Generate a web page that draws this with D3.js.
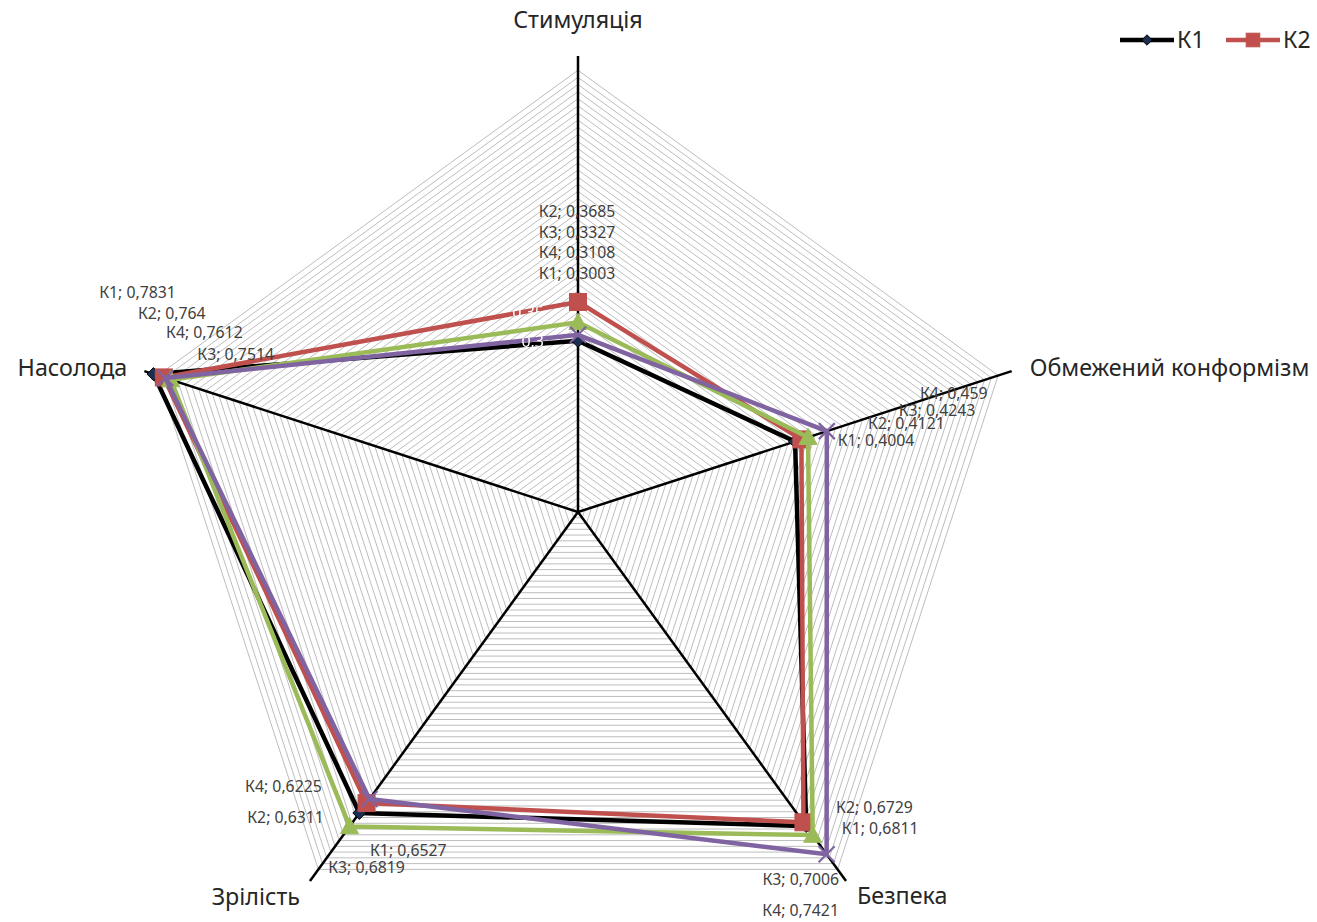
<!DOCTYPE html>
<html><head><meta charset="utf-8">
<script src="https://cdn.jsdelivr.net/npm/d3@7"></script>
<style>
html,body{margin:0;padding:0;background:#fff;}
svg{display:block;font-family:"Noto Sans",sans-serif;}
</style></head>
<body>
<svg id="chart" width="1317" height="922"></svg>
<script>
// ---------------- data ----------------
const categories = ["Стимуляція", "Обмежений конформізм", "Безпека", "Зрілість", "Насолода"];
const seriesNames = ["К1", "К2", "К3", "К4"];
const k1 = [0.3003, 0.4004, 0.6811, 0.6527, 0.7831];
const k2 = [0.3685, 0.4121, 0.6729, 0.6311, 0.764];
const k3 = [0.3327, 0.4243, 0.7006, 0.6819, 0.7514];
const k4 = [0.3108, 0.459, 0.7421, 0.6225, 0.7612];
const tickValues = [0.05, 0.1, 0.15, 0.2, 0.25, 0.3, 0.35, 0.4, 0.45, 0.5, 0.55, 0.6, 0.65, 0.7, 0.75];
const tickLabels = ["0,05", "0,1", "0,15", "0,2", "0,25", "0,3", "0,35", "0,4", "0,45", "0,5", "0,55", "0,6", "0,65", "0,7", "0,75"];
const axisMax = 0.8;
const minorStep = 0.0125;
const gridMax = 0.775;

// ---------------- layout ----------------
const cx = 578, cy = 512, R = 456;
const colors = ["#000000", "#c0504d", "#9bbb59", "#8064a2"];
const seriesData = [k1, k2, k3, k4];

// label offsets (dx, dy) from each data point, per series per category
const labelOffsets = [
  [[-1, -67], [81, -1], [74, 2], [49, 37], [-16, -82]],
  [[-1, -90], [105, -16], [71, -15], [-81, 14], [8, -64]],
  [[-1, -90], [129, -27], [-12, 44], [17, 41], [65, -25]],
  [[-1, -82], [127, -38], [-26, 56], [-86, -13], [39, -45]]
];

const svg = d3.select("#chart");
const defs = svg.append("defs");
const r = d3.scaleLinear().domain([0, axisMax]).range([0, R]);
const angle = d3.scalePoint().domain(d3.range(categories.length)).range([0, 2 * Math.PI * (categories.length - 1) / categories.length]);
function pt(i, v) {
  const a = angle(i);
  return [cx + r(v) * Math.sin(a), cy - r(v) * Math.cos(a)];
}

// gridlines
const gridG = svg.append("g");
const nGrid = Math.round(gridMax / minorStep);
for (let k = 1; k <= nGrid; k++) {
  const v = k * minorStep;
  const pts = categories.map((c, i) => pt(i, v));
  gridG.append("polygon")
    .attr("points", pts.map(p => p.join(",")).join(" "))
    .attr("fill", "none")
    .attr("stroke", "#bdbdbd")
    .attr("stroke-width", 1);
}

// spokes
const spokeG = svg.append("g");
categories.forEach((c, i) => {
  const p = pt(i, axisMax);
  spokeG.append("line")
    .attr("x1", cx).attr("y1", cy)
    .attr("x2", p[0]).attr("y2", p[1])
    .attr("stroke", "#000").attr("stroke-width", 2.5);
});

// markers
function drawMarker(g, s, x, y, big) {
  const k = big ? 1 : 0.8;
  if (s === 0) {
    const h = 6.5 * k;
    g.append("path").attr("d", `M${x},${y - h}L${x + h},${y}L${x},${y + h}L${x - h},${y}Z`)
      .attr("fill", "#1c2f52").attr("stroke", "#000").attr("stroke-width", 1);
  } else if (s === 1) {
    const h = 8.5 * k;
    g.append("rect").attr("x", x - h).attr("y", y - h).attr("width", 2 * h).attr("height", 2 * h)
      .attr("fill", colors[1]).attr("stroke", colors[1]).attr("stroke-width", 1);
  } else if (s === 2) {
    const h = 9 * k;
    g.append("path").attr("d", `M${x},${y - h}L${x + h},${y + h * 0.8}L${x - h},${y + h * 0.8}Z`)
      .attr("fill", colors[2]).attr("stroke", colors[2]).attr("stroke-width", 1);
  } else {
    const h = 8 * k;
    g.append("path").attr("d", `M${x - h},${y - h}L${x + h},${y + h}M${x - h},${y + h}L${x + h},${y - h}`)
      .attr("stroke", colors[3]).attr("stroke-width", 2.2).attr("fill", "none");
  }
}

const line = d3.line().curve(d3.curveLinearClosed);
const seriesG = svg.append("g");
const mask = defs.append("mask").attr("id", "lineMask").attr("maskUnits", "userSpaceOnUse")
  .attr("x", 0).attr("y", 0).attr("width", 1317).attr("height", 922);
mask.append("rect").attr("width", 1317).attr("height", 922).attr("fill", "#000");
seriesData.forEach((vals, s) => {
  const pts = vals.map((v, i) => pt(i, v));
  seriesG.append("path")
    .attr("d", line(pts))
    .attr("fill", "none")
    .attr("stroke", colors[s])
    .attr("stroke-width", 4.5)
    .attr("stroke-linejoin", "miter");
  pts.forEach(p => drawMarker(seriesG, s, p[0], p[1], true));
  mask.append("path").attr("d", line(pts)).attr("fill", "none")
    .attr("stroke", "#fff").attr("stroke-width", 5);
});
// spokes also reveal tick labels
categories.forEach((c, i) => {
  const p = pt(i, axisMax);
  mask.append("line").attr("x1", cx).attr("y1", cy).attr("x2", p[0]).attr("y2", p[1])
    .attr("stroke", "#fff").attr("stroke-width", 3);
});

// white axis tick labels along the vertical axis (visible only where they cross lines)
const tickG = svg.append("g").attr("mask", "url(#lineMask)");
tickValues.forEach((v, j) => {
  const p = pt(0, v);
  tickG.append("text")
    .attr("x", p[0] - 34).attr("y", p[1])
    .attr("dy", "0.35em")
    .attr("text-anchor", "end")
    .attr("font-size", 16)
    .attr("fill", "#fff")
    .text(tickLabels[j]);
});

// data labels
const labG = svg.append("g");
seriesData.forEach((vals, s) => {
  vals.forEach((v, i) => {
    const p = pt(i, v);
    const o = labelOffsets[s][i];
    labG.append("text")
      .attr("x", p[0] + o[0]).attr("y", p[1] + o[1])
      .attr("dy", "0.35em")
      .attr("text-anchor", "middle")
      .attr("font-size", 15.8)
      .attr("fill", "#404040")
      .text(seriesNames[s] + "; " + String(v).replace(".", ","));
  });
});

// category labels
const catOffsets = [[0, -36, "middle"], [18, -3, "start"], [11, 15, "start"], [-10, 16, "end"], [-17, -3, "end"]];
const catG = svg.append("g");
categories.forEach((c, i) => {
  const p = pt(i, axisMax);
  const o = catOffsets[i];
  catG.append("text")
    .attr("x", p[0] + o[0]).attr("y", p[1] + o[1])
    .attr("dy", "0.35em")
    .attr("text-anchor", o[2])
    .attr("font-size", 23.3)
    .attr("fill", "#262626")
    .text(c);
});

// legend (only К1 and К2 visible)
const legG = svg.append("g");
const legendX = [1120, 1226];
[0, 1].forEach(s => {
  const x0 = legendX[s], y0 = 40;
  legG.append("line").attr("x1", x0).attr("y1", y0).attr("x2", x0 + 54).attr("y2", y0)
    .attr("stroke", colors[s]).attr("stroke-width", 4.5);
  drawMarker(legG, s, x0 + 27, y0, false);
  legG.append("text").attr("x", x0 + 57).attr("y", y0).attr("dy", "0.35em")
    .attr("font-size", 23).attr("fill", "#262626").text(seriesNames[s]);
});
</script>
</body></html>
